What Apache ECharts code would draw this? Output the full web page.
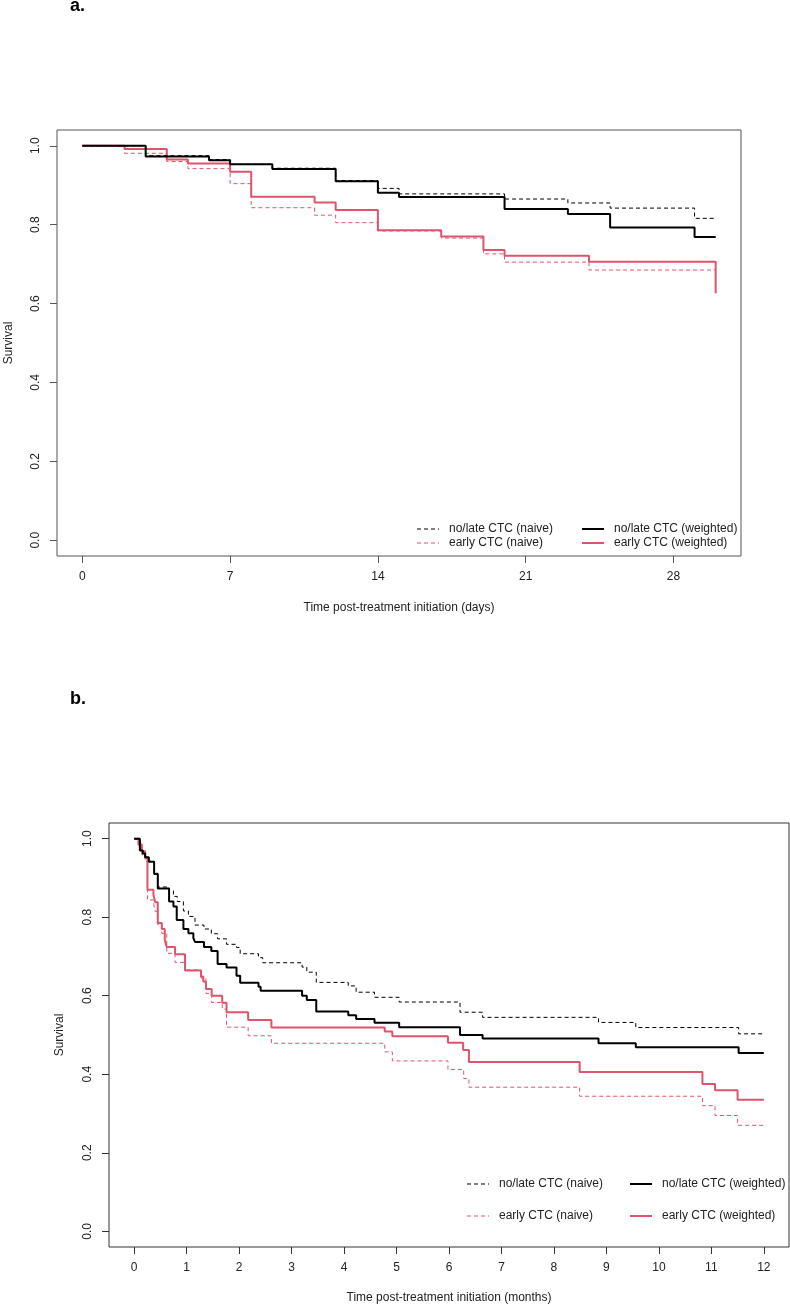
<!DOCTYPE html>
<html>
<head>
<meta charset="utf-8">
<script src="https://cdn.jsdelivr.net/npm/echarts@6/dist/echarts.min.js"></script>
<style>
  html, body { margin: 0; padding: 0; background: #ffffff; }
  #chart { width: 790px; height: 1305px; }
</style>
</head>
<body>
<div id="chart"></div>
<script>
// ---------- Data ----------
// Panel a: time in days
const aNoLateNaiveTime = [0, 3, 6, 7, 9, 12, 14, 15, 20, 23, 25, 29, 30];
const aNoLateNaiveSurv = [1.0, 0.975, 0.965, 0.953, 0.943, 0.912, 0.892, 0.878, 0.865, 0.855, 0.842, 0.816, 0.816];
const aNoLateWeightedTime = [0, 3, 6, 7, 9, 12, 14, 15, 20, 23, 25, 29, 30];
const aNoLateWeightedSurv = [1.0, 0.973, 0.963, 0.953, 0.941, 0.910, 0.881, 0.870, 0.840, 0.827, 0.793, 0.769, 0.769];
const aEarlyNaiveTime = [0, 2, 4, 5, 7, 8, 11, 12, 14, 17, 19, 20, 24, 30];
const aEarlyNaiveSurv = [1.0, 0.981, 0.960, 0.942, 0.904, 0.843, 0.824, 0.805, 0.784, 0.766, 0.726, 0.705, 0.685, 0.685];
const aEarlyWeightedTime = [0, 2, 4, 5, 7, 8, 11, 12, 14, 17, 19, 20, 24, 30, 30];
const aEarlyWeightedSurv = [1.0, 0.992, 0.965, 0.955, 0.934, 0.871, 0.856, 0.837, 0.786, 0.770, 0.736, 0.721, 0.706, 0.706, 0.626];

// Panel b: time in months
const bNoLateNaiveTime = [0, 0.108, 0.165, 0.209, 0.279, 0.38, 0.45, 0.665, 0.748, 0.82, 0.938, 1.033, 1.159, 1.33, 1.47, 1.59, 1.76, 1.95, 2.02, 2.37, 2.45, 3.20, 3.29, 3.47, 4.08, 4.23, 4.58, 5.05, 6.21, 6.64, 8.85, 9.56, 11.52, 12.0];
const bNoLateNaiveSurv = [1.0, 0.972, 0.962, 0.953, 0.943, 0.912, 0.877, 0.867, 0.853, 0.840, 0.816, 0.802, 0.780, 0.770, 0.758, 0.745, 0.731, 0.723, 0.707, 0.697, 0.684, 0.673, 0.660, 0.634, 0.625, 0.609, 0.596, 0.584, 0.558, 0.545, 0.532, 0.519, 0.503, 0.503];
const bNoLateWeightedTime = [0, 0.108, 0.165, 0.209, 0.279, 0.38, 0.45, 0.665, 0.748, 0.811, 0.938, 1.033, 1.128, 1.159, 1.33, 1.47, 1.59, 1.76, 1.95, 2.02, 2.37, 2.41, 3.20, 3.29, 3.47, 4.08, 4.23, 4.58, 5.05, 6.21, 6.64, 8.85, 9.56, 11.52, 12.0];
const bNoLateWeightedSurv = [1.0, 0.970, 0.962, 0.953, 0.941, 0.910, 0.873, 0.840, 0.827, 0.793, 0.770, 0.759, 0.747, 0.737, 0.724, 0.714, 0.681, 0.672, 0.651, 0.633, 0.623, 0.613, 0.600, 0.589, 0.560, 0.550, 0.541, 0.531, 0.520, 0.500, 0.491, 0.479, 0.469, 0.454, 0.454];
const bEarlyNaiveTime = [0, 0.082, 0.146, 0.209, 0.253, 0.367, 0.399, 0.45, 0.526, 0.621, 0.779, 0.969, 1.273, 1.368, 1.476, 1.678, 1.76, 2.172, 2.615, 4.775, 4.92, 5.98, 6.28, 6.38, 8.49, 10.83, 11.07, 11.50, 12.0];
const bEarlyNaiveSurv = [1.0, 0.980, 0.959, 0.942, 0.844, 0.838, 0.815, 0.781, 0.759, 0.708, 0.685, 0.666, 0.645, 0.606, 0.583, 0.566, 0.520, 0.498, 0.479, 0.457, 0.434, 0.412, 0.389, 0.367, 0.344, 0.320, 0.295, 0.270, 0.270];
const bEarlyWeightedTime = [0, 0.082, 0.146, 0.209, 0.253, 0.367, 0.399, 0.45, 0.526, 0.583, 0.621, 0.779, 0.969, 1.273, 1.317, 1.368, 1.476, 1.678, 1.76, 2.172, 2.615, 4.775, 4.92, 5.98, 6.27, 6.38, 8.49, 10.83, 11.07, 11.50, 12.0];
const bEarlyWeightedSurv = [1.0, 0.985, 0.968, 0.951, 0.870, 0.857, 0.838, 0.785, 0.770, 0.742, 0.724, 0.706, 0.664, 0.649, 0.636, 0.617, 0.600, 0.582, 0.558, 0.538, 0.519, 0.509, 0.497, 0.480, 0.462, 0.431, 0.406, 0.375, 0.359, 0.335, 0.335];

// Tick values
const aXTicks = [0, 7, 14, 21, 28];
const bXTicks = [0, 1, 2, 3, 4, 5, 6, 7, 8, 9, 10, 11, 12];
const yTicks = [0, 0.2, 0.4, 0.6, 0.8, 1.0];

// Names
const nameNoLateNaive = 'no/late CTC (naive)';
const nameEarlyNaive = 'early CTC (naive)';
const nameNoLateWeighted = 'no/late CTC (weighted)';
const nameEarlyWeighted = 'early CTC (weighted)';

// ---------- Styling ----------
const FONT = '"Liberation Sans", Arial, sans-serif';
const BLACK = '#000000';
const RED = '#DF536B';
const TXT = '#222222';

function pairs(t, s) { return t.map((v, i) => [v, s[i]]); }

function kmSeries(name, gi, time, surv, color, dashed) {
  return {
    type: 'line',
    name: name,
    xAxisIndex: gi,
    yAxisIndex: gi,
    step: 'end',
    symbol: 'none',
    showSymbol: false,
    animation: false,
    silent: true,
    lineStyle: {
      color: color,
      width: dashed ? 1 : 2,
      type: dashed ? [4, 3] : 'solid'
    },
    itemStyle: { color: color },
    data: pairs(time, surv)
  };
}

function xAxisDef(gi, min, max, ticks, title, axisColor, nameGap) {
  return {
    type: 'value',
    gridIndex: gi,
    position: 'bottom',
    min: min, max: max,
    axisLine: { show: false, onZero: false },
    splitLine: { show: false },
    axisTick: { show: true, inside: false, length: 7, customValues: ticks,
                lineStyle: { color: axisColor, width: 1 } },
    axisLabel: { show: true, customValues: ticks, margin: 15,
                 fontFamily: FONT, fontSize: 12, color: TXT },
    name: title,
    nameLocation: 'middle',
    nameGap: nameGap,
    nameTextStyle: { fontFamily: FONT, fontSize: 12, color: TXT }
  };
}

function yAxisDef(gi, axisColor, nameGap) {
  return {
    type: 'value',
    gridIndex: gi,
    position: 'left',
    min: -0.04, max: 1.04,
    axisLine: { show: false, onZero: false },
    splitLine: { show: false },
    axisTick: { show: true, inside: false, length: 7, customValues: yTicks,
                lineStyle: { color: axisColor, width: 1 } },
    axisLabel: { show: true, customValues: yTicks, rotate: 90, margin: 15,
                 formatter: v => v.toFixed(1),
                 fontFamily: FONT, fontSize: 12, color: TXT },
    name: 'Survival',
    nameLocation: 'middle',
    nameRotate: 90,
    nameGap: nameGap,
    nameTextStyle: { fontFamily: FONT, fontSize: 12, color: TXT }
  };
}

// Legend drawn as graphic samples (line + text), two columns per panel
function legendItems(x1, x2, y1, y2) {
  const rows = [
    { x: x1, y: y1, name: nameNoLateNaive, color: BLACK, dashed: true },
    { x: x1, y: y2, name: nameEarlyNaive, color: RED, dashed: true },
    { x: x2, y: y1, name: nameNoLateWeighted, color: BLACK, dashed: false },
    { x: x2, y: y2, name: nameEarlyWeighted, color: RED, dashed: false }
  ];
  const els = [];
  rows.forEach(r => {
    els.push({
      type: 'line', silent: true,
      shape: { x1: r.x, y1: r.y, x2: r.x + 22, y2: r.y },
      style: { stroke: r.color, lineWidth: r.dashed ? 1 : 2, lineDash: r.dashed ? [4, 3] : null }
    });
    els.push({
      type: 'text', silent: true,
      x: r.x + 32, y: r.y,
      style: { text: r.name, fontFamily: FONT, fontSize: 12, fill: TXT,
               textVerticalAlign: 'middle', verticalAlign: 'middle', align: 'left' }
    });
  });
  return els;
}

const chart = echarts.init(document.getElementById('chart'), null, { renderer: 'canvas' });

const option = {
  backgroundColor: '#ffffff',
  animation: false,
  title: [
    { text: 'a.', left: 70, top: -3, padding: 0,
      textStyle: { fontFamily: FONT, fontSize: 18, fontWeight: 'bold', color: '#000' } },
    { text: 'b.', left: 70, top: 690, padding: 0,
      textStyle: { fontFamily: FONT, fontSize: 18, fontWeight: 'bold', color: '#000' } }
  ],
  grid: [
    { left: 57, top: 130, width: 684, height: 426, show: true, outerBoundsMode: 'none', containLabel: false,
      borderColor: '#555555', borderWidth: 1, backgroundColor: 'transparent' },
    { left: 109, top: 823, width: 680, height: 424, show: true, outerBoundsMode: 'none', containLabel: false,
      borderColor: '#333333', borderWidth: 1, backgroundColor: 'transparent' }
  ],
  xAxis: [
    xAxisDef(0, -1.2, 31.2, aXTicks, 'Time post-treatment initiation (days)', '#555555', 46),
    xAxisDef(1, -0.48, 12.48, bXTicks, 'Time post-treatment initiation (months)', '#333333', 45)
  ],
  yAxis: [
    yAxisDef(0, '#555555', 42),
    yAxisDef(1, '#333333', 43)
  ],
  graphic: [].concat(
    legendItems(417, 582, 529, 543),
    legendItems(467, 630, 1184, 1216)
  ),
  series: [
    kmSeries(nameEarlyNaive, 0, aEarlyNaiveTime, aEarlyNaiveSurv, RED, true),
    kmSeries(nameEarlyWeighted, 0, aEarlyWeightedTime, aEarlyWeightedSurv, RED, false),
    kmSeries(nameNoLateWeighted, 0, aNoLateWeightedTime, aNoLateWeightedSurv, BLACK, false),
    kmSeries(nameNoLateNaive, 0, aNoLateNaiveTime, aNoLateNaiveSurv, BLACK, true),
    kmSeries(nameEarlyNaive, 1, bEarlyNaiveTime, bEarlyNaiveSurv, RED, true),
    kmSeries(nameEarlyWeighted, 1, bEarlyWeightedTime, bEarlyWeightedSurv, RED, false),
    kmSeries(nameNoLateWeighted, 1, bNoLateWeightedTime, bNoLateWeightedSurv, BLACK, false),
    kmSeries(nameNoLateNaive, 1, bNoLateNaiveTime, bNoLateNaiveSurv, BLACK, true)
  ]
};

chart.setOption(option);
</script>
</body>
</html>
